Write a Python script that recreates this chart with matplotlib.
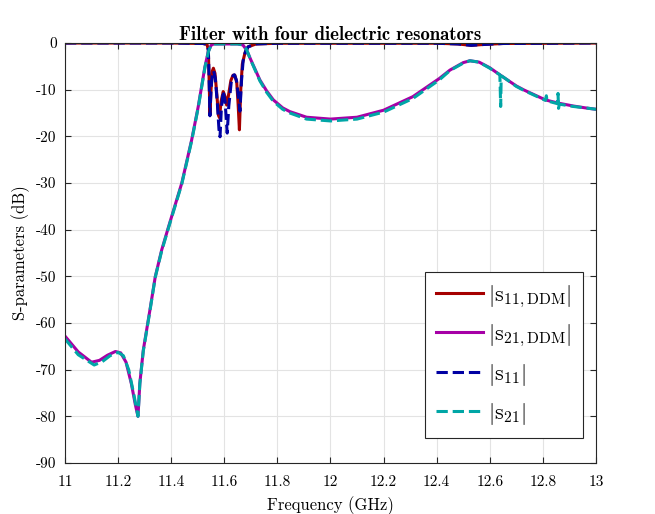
import matplotlib
matplotlib.use('Agg')
import matplotlib.pyplot as plt

plt.rcParams['font.family'] = 'cmr10'
plt.rcParams['mathtext.fontset'] = 'cm'
plt.rcParams['axes.unicode_minus'] = False
plt.rcParams['axes.formatter.use_mathtext'] = False

# |S21| from DDM (magenta)
f21d = [11.00, 11.05, 11.10, 11.13, 11.16, 11.19, 11.21, 11.23, 11.25, 11.265, 11.275,
        11.282, 11.295, 11.32, 11.34, 11.364, 11.39, 11.44, 11.477, 11.502, 11.527, 11.54,
        11.55, 11.56, 11.60, 11.65, 11.67, 11.684, 11.70, 11.734, 11.76, 11.785, 11.82,
        11.847, 11.91, 12.00, 12.10, 12.20, 12.31, 12.41, 12.45, 12.50, 12.525, 12.56,
        12.60, 12.64, 12.70, 12.73, 12.81, 12.86, 12.915, 12.96, 13.00]
s21d = [-62.8, -66.2, -68.4, -68.0, -66.9, -66.1, -66.4, -68.4, -73.0, -77.5, -80.0,
        -72.9, -65.8, -57.2, -50.1, -44.4, -39.4, -30.0, -20.8, -13.6, -5.1, -1.8,
        -0.5, -0.2, -0.2, -0.2, -0.4, -1.5, -3.6, -7.9, -10.3, -12.2, -13.9,
        -14.7, -15.9, -16.3, -15.9, -14.4, -11.5, -7.6, -5.8, -4.2, -3.8, -4.1,
        -5.3, -6.9, -9.2, -10.1, -12.2, -12.9, -13.5, -13.9, -14.2]

# |S21| reference (teal dashed)
f21 = [11.00, 11.05, 11.11, 11.14, 11.17, 11.20, 11.22, 11.24, 11.26, 11.275, 11.282,
       11.295, 11.32, 11.34, 11.364, 11.39, 11.44, 11.477, 11.502, 11.527, 11.54, 11.55,
       11.56, 11.60, 11.65, 11.67, 11.684, 11.70, 11.734, 11.76, 11.785, 11.82, 11.847,
       11.91, 12.00, 12.10, 12.20, 12.31, 12.41, 12.45, 12.50, 12.525, 12.56, 12.60,
       12.638, 12.641, 12.643, 12.646, 12.70, 12.73, 12.81, 12.813, 12.816, 12.855,
       12.857, 12.859, 12.862, 12.915, 12.96, 13.00]
s21 = [-63.4, -66.8, -69.0, -68.3, -67.0, -66.3, -67.0, -70.0, -75.5, -80.0, -73.0,
       -66.0, -57.4, -50.2, -44.6, -39.6, -30.2, -21.0, -13.8, -5.3, -1.9, -0.5,
       -0.2, -0.2, -0.2, -0.4, -1.4, -3.7, -8.1, -10.6, -12.5, -14.2, -15.0,
       -16.3, -16.7, -16.3, -14.8, -11.9, -7.9, -5.9, -4.3, -3.8, -4.1, -5.4,
       -6.8, -13.6, -7.2, -7.1, -9.3, -10.2, -12.3, -11.3, -12.4, -13.0,
       -10.8, -14.0, -13.1, -13.6, -13.9, -14.2]

# |S11| from DDM (dark red)
f11d = [11.00, 11.40, 11.52, 11.535, 11.54, 11.543, 11.546, 11.55, 11.555, 11.559, 11.565,
        11.572, 11.578, 11.582, 11.588, 11.596, 11.603, 11.609, 11.615, 11.625, 11.633,
        11.640, 11.647, 11.652, 11.657, 11.662, 11.668, 11.678, 11.69, 11.72, 11.80,
        12.40, 12.48, 12.53, 12.58, 12.65, 13.00]
s11d = [0.0, 0.0, -0.1, -0.3, -1.5, -8.0, -15.4, -10.0, -6.0, -5.4, -6.5,
        -11.0, -15.5, -16.0, -12.5, -10.4, -11.5, -13.3, -11.5, -8.0, -6.9,
        -6.9, -8.5, -13.0, -18.6, -10.0, -4.5, -2.1, -0.8, -0.2, -0.05,
        -0.05, -0.2, -0.5, -0.3, -0.1, 0.0]

# |S11| reference (dark blue dashed)
f11 = [11.00, 11.40, 11.52, 11.535, 11.54, 11.543, 11.546, 11.55, 11.555, 11.56, 11.566,
       11.574, 11.58, 11.584, 11.589, 11.596, 11.603, 11.611, 11.617, 11.626, 11.633,
       11.638, 11.646, 11.652, 11.659, 11.665, 11.671, 11.68, 11.69, 11.72, 11.80,
       12.40, 12.48, 12.53, 12.58, 12.65, 13.00]
s11 = [0.0, 0.0, -0.1, -0.3, -1.5, -8.0, -15.6, -10.0, -6.5, -6.0, -7.5,
       -13.0, -18.5, -20.1, -14.0, -10.3, -12.5, -19.3, -13.5, -8.5, -7.0,
       -6.8, -8.0, -11.0, -14.6, -8.0, -3.8, -1.8, -0.8, -0.2, -0.05,
       -0.05, -0.2, -0.5, -0.3, -0.1, 0.0]

xticks = [11, 11.2, 11.4, 11.6, 11.8, 12, 12.2, 12.4, 12.6, 12.8, 13]
yticks = [-90, -80, -70, -60, -50, -40, -30, -20, -10, 0]

fig = plt.figure(figsize=(6.55, 5.14), dpi=100)
ax = fig.add_axes([0.0992, 0.0992, 0.8107, 0.8171])

ax.plot(f11d, s11d, '-', color='#a50000', lw=2.2, label=r'$|\mathrm{s}_{\mathrm{11,DDM}}|$')
ax.plot(f21d, s21d, '-', color='#a600a6', lw=2.2, label=r'$|\mathrm{s}_{\mathrm{21,DDM}}|$')
ax.plot(f11, s11, '--', color='#0000a3', lw=2.2, label=r'$|\mathrm{s}_{\mathrm{11}}|$')
ax.plot(f21, s21, '--', color='#00a6a6', lw=2.2, label=r'$|\mathrm{s}_{\mathrm{21}}|$')

ax.set_xlim(11, 13)
ax.set_ylim(-90, 0)
ax.set_xticks(xticks)
ax.set_xticklabels([('%g' % t) for t in xticks])
ax.set_yticks(yticks)
ax.set_yticklabels([('%g' % t) for t in yticks])
ax.grid(True, color='#e3e3e3', lw=0.8)
ax.set_axisbelow(True)
ax.tick_params(direction='in', top=True, right=True, labelsize=11, length=4,
               color='#262626')
ax.tick_params(axis='x', pad=9)
ax.tick_params(axis='y', pad=6)
for sp in ax.spines.values():
    sp.set_color('#262626')
    sp.set_linewidth(0.8)

ax.set_xlabel('Frequency (GHz)', fontsize=12, labelpad=5)
ax.set_ylabel('S-parameters (dB)', fontsize=12, labelpad=4)
ax.set_title('Filter with four dielectric resonators', fontsize=13.5,
             fontfamily='cmb10', pad=2)

leg = ax.legend(loc='lower right', bbox_to_anchor=(0.9755, 0.0595), borderaxespad=0,
                fontsize=16, handlelength=2.1, handletextpad=0.25, fancybox=False,
                framealpha=1, edgecolor='#262626', labelspacing=0.58, borderpad=0.5)
leg.get_frame().set_linewidth(0.8)

fig.savefig('out.png', dpi=100)
